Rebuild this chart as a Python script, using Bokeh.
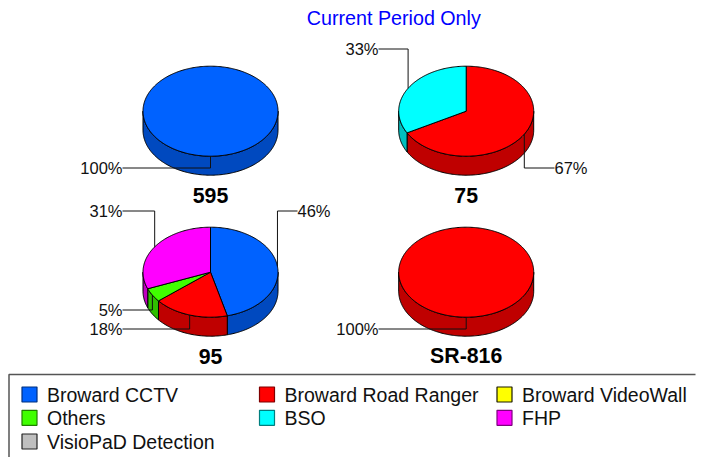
import math
from bokeh.embed import file_html
from bokeh.models import Range1d
from bokeh.plotting import figure
from bokeh.resources import INLINE
from bokeh.core.properties import value

title = "Current Period Only"
categories = ["Broward CCTV", "Broward Road Ranger", "Broward VideoWall", "Others", "BSO", "FHP", "VisioPaD Detection"]
top_colors = ["#0062FF", "#FF0000", "#FFFF00", "#40FF00", "#00FFFF", "#FF00FF", "#BFBFBF"]
side_colors = ["#0049BF", "#BF0000", "#BFBF00", "#30BF00", "#00BFBF", "#BF00BF", "#8F8F8F"]
swatch_edges = ["#00307F", "#7F0000", "#1A1A00", "#207F00", "#007F7F", "#7F007F", "#222222"]

pie_names = ["595", "75", "95", "SR-816"]
pie_595 = [100, 0, 0, 0, 0, 0, 0]
pie_75 = [0, 67, 0, 0, 33, 0, 0]
pie_95 = [46, 18, 0, 5, 0, 31, 0]
pie_sr816 = [0, 100, 0, 0, 0, 0, 0]

FONT = "Liberation Sans"
p = figure(width=705, height=457, output_backend="svg", toolbar_location=None,
           x_range=Range1d(0, 705), y_range=Range1d(457, 0),
           x_axis_type=None, y_axis_type=None, min_border=0, outline_line_color=None)
p.grid.visible = False
p.background_fill_color = "white"

RX, RY, DEPTH = 67.5, 45, 19


def pt(cx, cy, a):
    return cx + RX * math.sin(math.radians(a)), cy - RY * math.cos(math.radians(a))


def arc(cx, cy, a0, a1, dy=0):
    n = max(2, int(abs(a1 - a0)) + 1)
    out = [pt(cx, cy + dy, a0 + (a1 - a0) * i / (n - 1)) for i in range(n)]
    return [q[0] for q in out], [q[1] for q in out]


def text(x, y, s, size, align="left", color="#111111", style="normal"):
    p.text([x], [y], text=[s], text_font=value(FONT), text_font_size=f"{size}px",
           text_align=align, text_baseline="middle", text_color=color, text_font_style=style)


def pie(cx, cy, shares, name, leaders):
    slices = []
    a = 0.0
    for i, v in enumerate(shares):
        if v > 0:
            slices.append((i, v, a, a + v * 3.6))
            a += v * 3.6
    for i, v, a0, a1 in slices:
        lo, hi = max(a0, 90), min(a1, 270)
        if hi <= lo:
            continue
        xt, yt = arc(cx, cy, lo, hi)
        xb, yb = arc(cx, cy, hi, lo, DEPTH)
        p.patch(xt + xb, yt + yb, fill_color=side_colors[i], line_color="black", line_width=1)
    for i, v, a0, a1 in slices:
        xs, ys = arc(cx, cy, a0, a1)
        if v < 100:
            xs, ys = [cx] + xs, [cy] + ys
        p.patch(xs, ys, fill_color=top_colors[i], line_color="black", line_width=1)
    for (i, v, a0, a1), (bend_y, end_x, lab_x, align) in zip(slices, leaders):
        sx, sy = pt(cx, cy, (a0 + a1) / 2)
        p.line([sx, sx, end_x], [sy, bend_y, bend_y], line_color="#111111", line_width=1)
        text(lab_x, bend_y, f"{v}%", 16.5, align)
    text(cx, cy + 84, name, 21.3, "center", "black", "bold")


pie(210, 110.7, pie_595, pie_names[0], [(167.5, 122, 122, "right")])
pie(465.7, 110.7, pie_75, pie_names[1], [(167.5, 554, 554, "left"), (48.5, 378, 378, "right")])
pie(210, 271.7, pie_95, pie_names[2], [(210.5, 297, 297, "left"), (328.5, 122, 122, "right"),
                                       (309.5, 122, 122, "right"), (210.5, 122, 122, "right")])
pie(465.7, 271.7, pie_sr816, pie_names[3], [(328.5, 378, 378, "right")])

text(393.3, 17, title, 19.7, "center", "#0000FF")

# legend frame: open at the bottom and on the right, as in the picture
p.line([8.5, 8.5, 695], [457, 374, 374], line_color="#555555", line_width=1.5)
col_x = [21.5, 259, 496.5]
row_y = [394, 417.3, 441]
for k, c in enumerate(categories):
    x = col_x[k % 3]
    y = row_y[k // 3]
    p.quad(left=x, right=x + 15, top=y - 7.5, bottom=y + 7.5, fill_color=top_colors[k],
           line_color=swatch_edges[k], line_width=1.2)
    text(x + 25, y, c, 19.5)

open("out.html", "w").write(file_html(p, INLINE))
